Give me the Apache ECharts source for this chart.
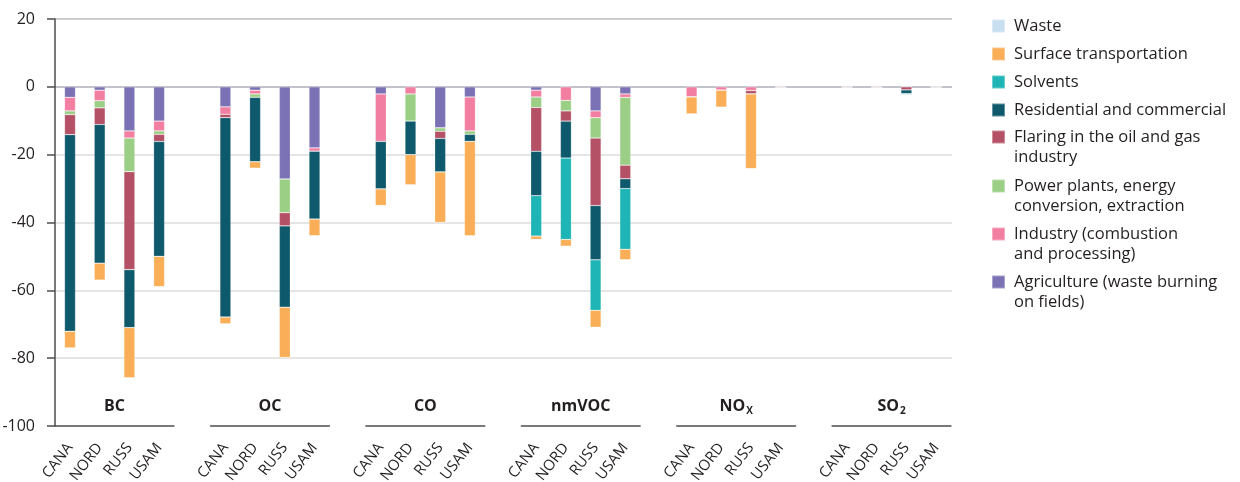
<!DOCTYPE html>
<html>
<head>
<meta charset="utf-8">
<script src="https://cdn.jsdelivr.net/npm/echarts@6/dist/echarts.min.js"></script>
<style>
html,body{margin:0;padding:0;background:#fff;}
#chart{width:1240px;height:482px;}
</style>
</head>
<body>
<div id="chart"></div>
<script>
// ---- data ----
const regions = ['CANA', 'NORD', 'RUSS', 'USAM'];
const pollutants = ['BC', 'OC', 'CO', 'nmVOC', 'NOx', 'SO2'];
const pollutantLabels = ['BC', 'OC', 'CO', 'nmVOC', '{b|NO}{s|X}', '{b|SO}{s|2}'];
const yTicks = [-100, -80, -60, -40, -20, 0, 20];

const sectorNames = [
  'Agriculture (waste burning on fields)',
  'Industry (combustion and processing)',
  'Power plants, energy conversion, extraction',
  'Flaring in the oil and gas industry',
  'Residential and commercial',
  'Solvents',
  'Surface transportation',
  'Waste'
];
const sectorLabels = [
  'Agriculture (waste burning\non fields)',
  'Industry (combustion\nand processing)',
  'Power plants, energy\nconversion, extraction',
  'Flaring in the oil and gas\nindustry',
  'Residential and commercial',
  'Solvents',
  'Surface transportation',
  'Waste'
];
// values per sector: BC(CANA,NORD,RUSS,USAM), OC, CO, nmVOC, NOx, SO2
const agriculture = [3.1, 1.0, 13.0, 10.1,  5.9, 1.0, 27.2, 18.0,  2.1, 0, 12.1, 3.0,  1.0, 0, 7.1, 2.1,  0, 0, 0, 0,  0, 0, 0, 0];
const industry    = [4.0, 3.1, 2.1, 2.9,  2.2, 1.1, 0, 1.0,  14.0, 2.1, 0, 10.0,  2.0, 4.0, 2.0, 1.0,  3.0, 1.0, 1.1, 0,  0, 0, 0, 0];
const power       = [1.1, 2.1, 9.9, 1.0,  0, 1.0, 9.9, 0,  0, 8.0, 1.0, 1.0,  3.1, 3.1, 6.0, 20.0,  0, 0, 0, 0,  0, 0, 0, 0];
const flaring     = [5.9, 4.9, 28.9, 2.1,  1.0, 0, 3.9, 0,  0, 0, 2.1, 0,  12.9, 3.0, 19.9, 4.0,  0, 0, 1.0, 0.3,  0.3, 0.3, 0.9, 0.3];
const residential = [58.0, 40.9, 17.1, 33.9,  58.8, 19.0, 24.0, 20.0,  14.0, 9.9, 9.9, 2.1,  13.1, 10.9, 16.0, 2.9,  0, 0, 0, 0,  0, 0, 1.1, 0];
const solvents    = [0, 0, 0, 0,  0, 0, 0, 0,  0, 0, 0, 0,  11.9, 24.0, 14.9, 17.9,  0, 0, 0, 0,  0, 0, 0.3, 0];
const transport   = [4.9, 5.0, 14.8, 8.9,  2.0, 1.9, 14.8, 4.9,  4.9, 8.9, 14.9, 27.8,  1.0, 2.0, 5.0, 3.1,  5.0, 5.0, 22.0, 0,  0, 0, 0, 0];
const waste       = [0, 0, 0, 0,  0, 0, 0, 0,  0, 0, 0, 0,  0, 0, 0, 0,  0, 0, 0, 0,  0, 0, 0, 0];

const sectorValues = [agriculture, industry, power, flaring, residential, solvents, transport, waste];
const sectorColors = ['#7a72b4', '#f27ea2', '#9bcf85', '#b45166', '#0e596b', '#1fb4b5', '#f9ae57', '#c8dff2'];

// ---- layout ----
const FONT = '"Open Sans", "Noto Sans", sans-serif';
const gridTop = 19, gridBottom = 56;
const firstLeft = 55.15, groupStep = 155.4, groupWidth = 118.8;

const grids = [], xAxes = [], yAxes = [], series = [];
pollutants.forEach((p, g) => {
  grids.push({left: firstLeft + g * groupStep, width: groupWidth, top: gridTop, bottom: gridBottom, containLabel: false, outerBoundsMode: 'none'});
  xAxes.push({
    type: 'category', gridIndex: g, data: regions,
    axisLine: {onZero: false, lineStyle: {color: '#4d4d4f', width: 1.5}},
    axisTick: {alignWithLabel: true, length: 8, lineStyle: {color: '#4d4d4f', width: 1.5}},
    axisLabel: {rotate: 52, margin: 19, fontSize: 15, color: '#231f20', fontFamily: FONT},
    name: pollutantLabels[g], nameLocation: 'middle', nameGap: -20,
    nameTextStyle: {
      verticalAlign: 'middle', fontFamily: FONT, fontSize: 16, fontWeight: 'bold', color: '#231f20',
      rich: {
        b: {fontFamily: FONT, fontSize: 16, fontWeight: 'bold', color: '#231f20'},
        s: {fontFamily: FONT, fontSize: 10, fontWeight: 'bold', color: '#231f20', verticalAlign: 'bottom', padding: [0, 0, -2, 1]}
      }
    }
  });
  yAxes.push({type: 'value', gridIndex: g, min: yTicks[0], max: yTicks[yTicks.length - 1], interval: 20, show: false});
  sectorNames.forEach((name, s) => {
    series.push({
      type: 'bar', name: name, xAxisIndex: g, yAxisIndex: g, stack: 'st' + g,
      barWidth: 11,
      itemStyle: {color: sectorColors[s], borderColor: 'rgba(255,255,255,0.35)', borderWidth: 0.6},
      data: sectorValues[s].slice(g * 4, g * 4 + 4).map(v => -v)
    });
  });
});
// background grid carrying the y axis and gridlines
const bg = pollutants.length;
grids.push({left: 55, right: 288, top: gridTop, bottom: gridBottom, containLabel: false, outerBoundsMode: 'none'});
xAxes.push({type: 'value', gridIndex: bg, show: false, min: 0, max: 1});
yAxes.push({
  type: 'value', gridIndex: bg, min: yTicks[0], max: yTicks[yTicks.length - 1], interval: 20,
  axisLine: {show: true, lineStyle: {color: '#4d4d4f', width: 1.5}},
  axisTick: {show: true, length: 8, lineStyle: {color: '#4d4d4f', width: 1.5}},
  axisLabel: {margin: 20, fontSize: 16, color: '#231f20', fontFamily: FONT},
  splitLine: {show: true, lineStyle: {width: 1.5, color: ['rgba(0,0,0,0)', '#dcdcdc', '#dcdcdc', '#dcdcdc', '#dcdcdc', '#aeaeba', '#bdbdbd']}}
});

// legend (one component per entry so two-line labels align with first line)
const legendOrder = [7, 6, 5, 4, 3, 2, 1, 0];
const legendCenters = [26, 54, 82, 110, 137, 186, 234, 282];
const legends = legendOrder.map((s, i) => {
  const twoLine = sectorLabels[s].indexOf('\n') >= 0;
  return {
    orient: 'vertical', left: 991, top: legendCenters[i] - (twoLine ? 30 : 10), padding: 0,
    itemWidth: 13, itemHeight: 13, icon: 'rect',
    data: [{name: sectorNames[s], itemStyle: {color: sectorColors[s]}}],
    formatter: () => (twoLine ? '\n' : '') + sectorLabels[s],
    textStyle: {fontFamily: FONT, fontSize: 16.5, lineHeight: 20, color: '#231f20', padding: [0, 0, 0, 4]}
  };
});

const chart = echarts.init(document.getElementById('chart'), null, {renderer: 'canvas'});
chart.setOption({
  animation: false,
  backgroundColor: '#ffffff',
  grid: grids, xAxis: xAxes, yAxis: yAxes,
  legend: legends,
  series: series
});
</script>
</body>
</html>
